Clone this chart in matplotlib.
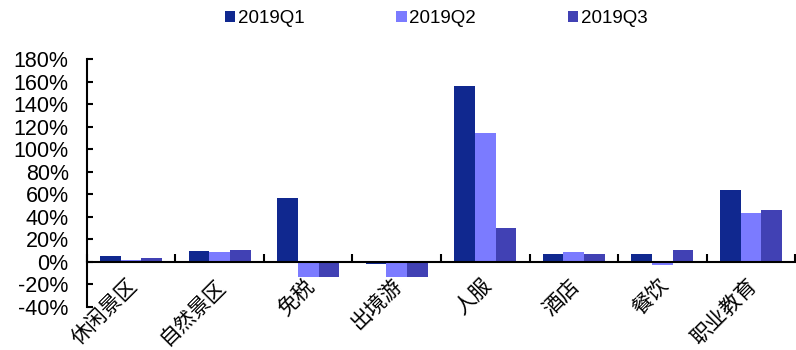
import numpy as np
import matplotlib
matplotlib.use("Agg")
import matplotlib.pyplot as plt
import matplotlib.transforms as mtransforms

plt.rcParams['font.family'] = ['Liberation Sans', 'Noto Sans CJK SC', 'DejaVu Sans']

### DATA
### ------------------
categories = ['休闲景区', '自然景区', '免税', '出境游', '人服', '酒店', '餐饮', '职业教育']
series_names = ['2019Q1', '2019Q2', '2019Q3']
q1 = [5, 10, 57, -2, 156, 7, 7, 64]
q2 = [2, 9, -13, -13, 114, 9, -3, 43]
q3 = [3.5, 10.5, -13, -13, 30, 7, 10.5, 46]
colors = ['#10288F', '#7B7BFF', '#4141B4']
yticks = np.arange(-40, 181, 20)

### PLOT
### ------------------
fig = plt.figure(figsize=(7.96, 3.5), dpi=100)
ax = fig.add_axes([0.109, 0.123, 0.89, 0.708])

x = np.arange(len(categories))
width = 0.234
for index, values in enumerate([q1, q2, q3]):
    ax.bar(x + (index - 1) * width, values, width=width, color=colors[index],
           label=series_names[index])

ax.set_xlim(-0.5, len(categories) - 0.5)
ax.set_ylim(-40, 180)
ax.set_yticks(yticks)
ax.set_yticklabels(['%d%%' % v for v in yticks], fontsize=15.5)
ax.tick_params(axis='y', direction='in', length=4, width=1.5, pad=13)

ax.spines['top'].set_visible(False)
ax.spines['right'].set_visible(False)
ax.spines['left'].set_linewidth(1.5)
ax.spines['bottom'].set_position(('data', 0))
ax.spines['bottom'].set_linewidth(1.5)
ax.set_xticks(np.arange(len(categories) + 1) - 0.5)
ax.set_xticklabels([])
ax.tick_params(axis='x', direction='in', length=6, width=1.5)

trans = mtransforms.blended_transform_factory(ax.transData, ax.transAxes)
for i, name in enumerate(categories):
    ax.text(i + 0.03, 0.1, name, transform=trans, rotation=45,
            rotation_mode='anchor', ha='right', va='center', fontsize=15,
            family=['Noto Sans CJK SC', 'DejaVu Sans'])

fig.legend(loc='center', bbox_to_anchor=(0.548, 0.946), ncol=3, frameon=False,
           fontsize=13.5, handlelength=0.55, handleheight=0.55,
           handletextpad=0.15, columnspacing=4.9)

plt.savefig('out.png', dpi=100)
